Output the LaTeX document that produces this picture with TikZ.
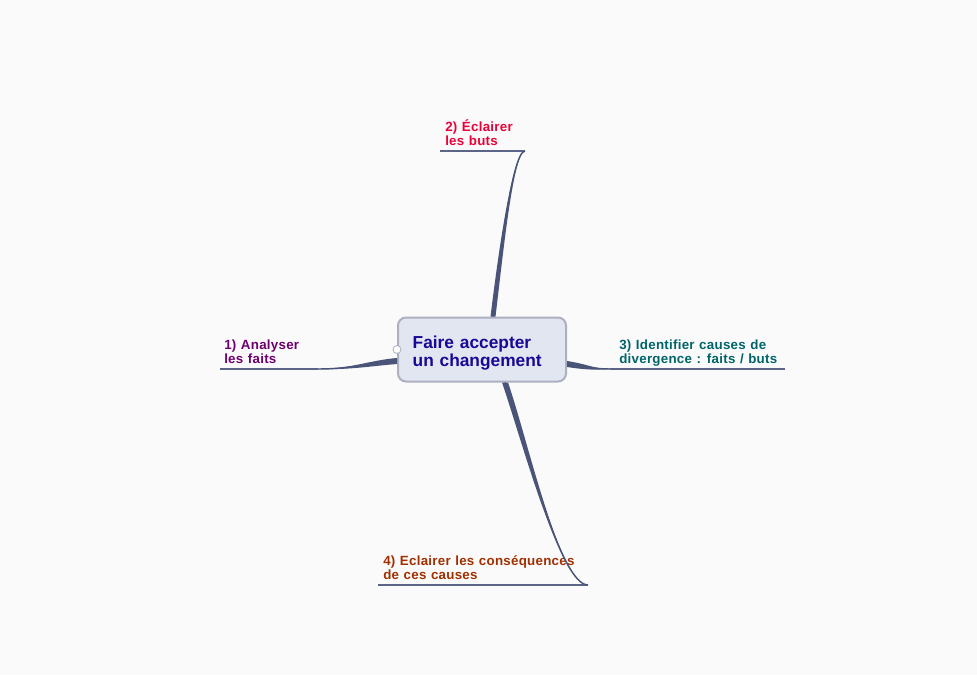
\documentclass[tikz,border=0pt]{standalone}
\usepackage{fontspec}
\setmainfont{Liberation Sans}
\newfontfamily\leaffont[WordSpace=1.15,LetterSpace=2]{Liberation Sans}
\usetikzlibrary{calc}
\definecolor{bgpage}{RGB}{250,250,251}
\definecolor{hubfill}{RGB}{226,230,240}
\definecolor{hubline}{RGB}{172,176,192}
\definecolor{hubtext}{RGB}{24,8,150}
\definecolor{linkcol}{RGB}{74,84,120}
\definecolor{rulecol}{RGB}{92,100,135}
\definecolor{colA}{RGB}{110,0,110}
\definecolor{colB}{RGB}{236,0,56}
\definecolor{colC}{RGB}{0,100,104}
\definecolor{colD}{RGB}{160,48,0}

\tikzset{
  hub/.style={draw=hubline, fill=hubfill, line width=1.5pt, rounded corners=6pt,
    minimum width=126pt, minimum height=48pt, inner xsep=11pt, text width=104pt,
    align=left, text=hubtext, text depth=10.5pt, font=\fontsize{13}{13.6}\selectfont\bfseries},
  leaf/.style={inner sep=0pt, align=left, font=\leaffont\fontsize{10}{10.2}\selectfont\bfseries},
  rule/.style={draw=rulecol, line width=0.95pt},
  twig/.style={draw=linkcol, line width=1.1pt},
  limb/.style={fill=linkcol},
}

\begin{document}
\begin{tikzpicture}[x=0.75pt,y=-0.75pt]
    \fill[bgpage] (0,0) rectangle (977,675);
    \useasboundingbox (0,0) rectangle (977,675);
    % central topic
    \node[hub] (hub) at (482,349.5) {Faire accepter\\un changement};
    \filldraw[fill=white!92!hubfill, draw=hubline, line width=0.6pt] (hub.west) circle (3pt);
    % labels
    \node[leaf, text=colA, anchor=base west] (t1) at (224,363) {1) Analyser\\les faits};
    \node[leaf, text=colB, anchor=base west] (t2) at (445,145) {2) Éclairer\\les buts};
    \node[leaf, text=colC, anchor=base west] (t3) at (619,363) {3) Identifier causes de\\divergence : faits / buts};
    \node[leaf, text=colD, anchor=base west] (t4) at (383,579) {4) Eclairer les conséquences\\de ces causes};
    % ends of the branches
    \coordinate (u1) at (220,369);  \coordinate (f1) at (318,369);
    \coordinate (u2) at (440,151);  \coordinate (f2) at (525,151);
    \coordinate (u3) at (785,369);  \coordinate (f3) at (610,369);
    \coordinate (u4) at (378,585);  \coordinate (f4) at (588,585);
    \draw[rule] (u1) -- (f1);
    \draw[rule] (u2) -- (f2);
    \draw[rule] (f3) -- (u3);
    \draw[rule] (u4) -- (f4);
    % branch 1
    \fill[limb] (f1) .. controls +(32,0) and +(-26,2) .. ($(hub.west)+(0,8.5)$)
        -- ($(hub.west)+(0,14.5)$) .. controls +(-26,2) and +(32,1) .. (f1) -- cycle;
    \draw[twig] (f1) .. controls +(32,0) and +(-26,2) .. ($(hub.west)+(0,11.5)$);
    % branch 2
    \draw[twig] (f2) .. controls +(-13,1) and +(7,-57) .. ($(hub.north)+(11,0)$);
    \fill[limb] (f2) .. controls +(-13,1) and +(7,-57) .. ($(hub.north)+(8.5,0)$)
        -- ($(hub.north)+(13.5,0)$) .. controls +(7,-57) and +(-12,1) .. (f2) -- cycle;
    % branch 3
    \fill[limb] ($(hub.east)+(0,11.5)$) .. controls +(20,3) and +(-15,0) .. (f3)
        -- (f3) .. controls +(-15,1) and +(20,3) .. ($(hub.east)+(0,17.5)$) -- cycle;
    \draw[twig] ($(hub.east)+(0,14.5)$) .. controls +(20,3) and +(-15,0) .. (f3);
    % branch 4
    \fill[limb] ($(hub.south)+(20,0)$) .. controls +(20,58) and +(-28,0) .. (f4)
        -- (f4) .. controls +(-28,1) and +(20,58) .. ($(hub.south)+(26,0)$) -- cycle;
    \draw[twig] ($(hub.south)+(23,0)$) .. controls +(20,58) and +(-28,0) .. (f4);
\end{tikzpicture}
\end{document}
